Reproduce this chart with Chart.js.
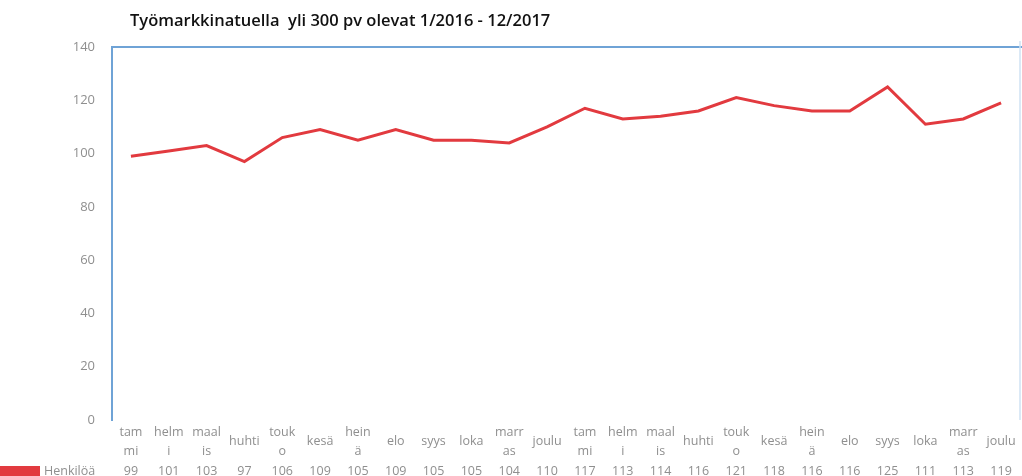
<!DOCTYPE html>
<html>
<head>
<meta charset="utf-8">
<script src="https://cdn.jsdelivr.net/npm/chart.js@4.4.1/dist/chart.umd.min.js"></script>
<style>
  body { margin: 0; background: #fff; }
  #wrap { position: relative; width: 1022px; height: 476px; }
  #title {
    position: absolute; left: 130px; top: 8px;
    font: 600 16.5px "Open Sans", sans-serif; color: #111;
  }
</style>
</head>
<body>
<div id="wrap">
  <canvas id="chart"></canvas>
  <div id="title">Työmarkkinatuella&nbsp; yli 300 pv olevat 1/2016 - 12/2017</div>
</div>
<script>
// month labels, split the way the data table wraps them
const months = [
  ["tam", "mi"], ["helm", "i"], ["maal", "is"], ["huhti"], ["touk", "o"], ["kesä"],
  ["hein", "ä"], ["elo"], ["syys"], ["loka"], ["marr", "as"], ["joulu"],
  ["tam", "mi"], ["helm", "i"], ["maal", "is"], ["huhti"], ["touk", "o"], ["kesä"],
  ["hein", "ä"], ["elo"], ["syys"], ["loka"], ["marr", "as"], ["joulu"]
];
const seriesName = "Henkilöä";
const persons = [99, 101, 103, 97, 106, 109, 105, 109, 105, 105, 104, 110,
                 117, 113, 114, 116, 121, 118, 116, 116, 125, 111, 113, 119];

const lineRed = "#e23a3f";
const frameBlue = "#6fa3d6";
const textGray = "#8f8f8f";

// frame lines + the data table under the plot
const tablePlugin = {
  id: "table",
  afterDraw(chart) {
    const ctx = chart.ctx;
    const a = chart.chartArea;
    const x = chart.scales.x;
    ctx.save();
    ctx.strokeStyle = frameBlue;
    ctx.lineWidth = 2;
    ctx.beginPath();
    ctx.moveTo(a.left, a.top);
    ctx.lineTo(chart.width, a.top);
    ctx.stroke();
    ctx.strokeStyle = "#cfe2f3";
    ctx.lineWidth = 1.5;
    ctx.beginPath();
    ctx.moveTo(chart.width - 2, a.top - 6);
    ctx.lineTo(chart.width - 2, a.bottom);
    ctx.stroke();

    ctx.fillStyle = textGray;
    ctx.font = "12.5px 'Open Sans', sans-serif";
    ctx.textAlign = "center";
    ctx.textBaseline = "middle";
    months.forEach((m, i) => {
      const px = x.getPixelForValue(i);
      if (m.length === 2) {
        ctx.fillText(m[0], px, a.bottom + 12);
        ctx.fillText(m[1], px, a.bottom + 31);
      } else {
        ctx.fillText(m[0], px, a.bottom + 21);
      }
      ctx.fillText(String(persons[i]), px, a.bottom + 51);
    });

    // legend key in the table row
    ctx.fillStyle = lineRed;
    ctx.fillRect(0, a.bottom + 46, 40, 12);
    ctx.fillStyle = textGray;
    ctx.textAlign = "left";
    ctx.fillText(seriesName, 44, a.bottom + 51);
    ctx.restore();
  }
};

new Chart("chart", {
  type: "line",
  data: {
    labels: months.map(m => m.join("")),
    datasets: [{
      label: seriesName,
      data: persons,
      borderColor: lineRed,
      borderWidth: 3,
      pointRadius: 0,
      tension: 0
    }]
  },
  options: {
    responsive: true,
    maintainAspectRatio: false,
    animation: false,
    layout: { padding: { top: 47, right: 2, left: 0, bottom: 0 } },
    plugins: {
      legend: { display: false },
      tooltip: { enabled: false }
    },
    scales: {
      x: {
        offset: true,
        grid: { display: false, offset: true },
        border: { display: false },
        ticks: { display: false },
        afterFit(scale) { scale.height = 56; }
      },
      y: {
        min: 0,
        max: 140,
        grid: { display: false },
        border: { color: frameBlue, width: 2 },
        ticks: {
          stepSize: 20,
          padding: 9,
          color: textGray,
          font: { family: "'Open Sans', sans-serif", size: 13 }
        },
        afterFit(scale) { scale.width = 112; }
      }
    }
  },
  plugins: [tablePlugin]
});
</script>
</body>
</html>
